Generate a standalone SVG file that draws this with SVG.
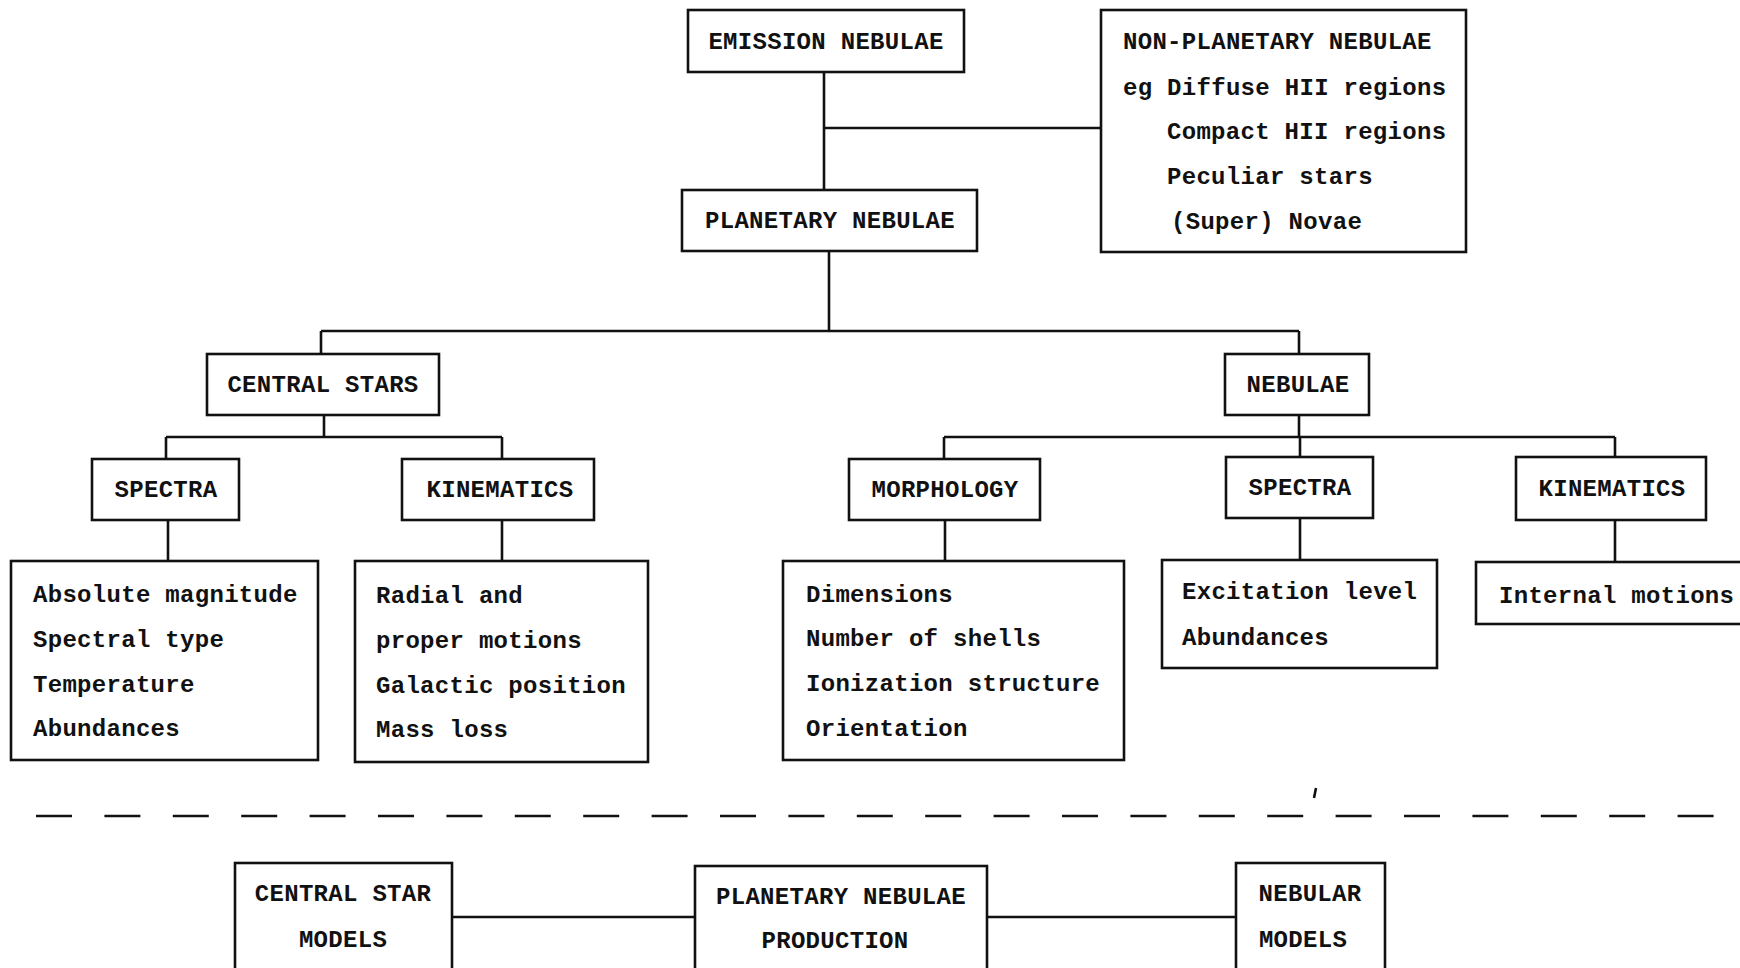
<svg xmlns="http://www.w3.org/2000/svg" width="1740" height="968" viewBox="0 0 1740 968">
<style>
.box{fill:#fff;stroke:#111;stroke-width:2.6}
.ln{fill:none;stroke:#111;stroke-width:2.6}
.t{font-family:"Liberation Mono","DejaVu Sans Mono",monospace;font-weight:bold;font-size:24px;letter-spacing:0.3px;fill:#111}
.c{text-anchor:middle}
</style>
<rect width="1740" height="968" fill="#fff"/>
<g id="connectors">
<path class="ln" d="M824 72V190M824 128H1101"/>
<path class="ln" d="M829 251V331M321 331H1299M321 331V354M1299 331V354"/>
<path class="ln" d="M324 415V437M166 437H502M166 437V459M502 437V459"/>
<path class="ln" d="M168 520V561M502 520V561"/>
<path class="ln" d="M1299 415V437M944 437H1615M944 437V459M1300 437V457M1615 437V457"/>
<path class="ln" d="M945 520V561M1300 518V560M1615 520V562"/>
<path class="ln" d="M452 917H695M987 917H1236"/>
<path class="ln" d="M36 816H1714" stroke-dasharray="36 32.4"/>
<path class="ln" d="M1316 788L1314 798" stroke-width="2"/>
</g>
<g id="emission"><rect class="box" x="688" y="10" width="276" height="62"/><text class="t c" x="826" y="49">EMISSION NEBULAE</text></g>
<g id="nonplanetary"><rect class="box" x="1101" y="10" width="365" height="242"/>
<text class="t" x="1123" y="49">NON-PLANETARY NEBULAE</text>
<text class="t" x="1123" y="95">eg Diffuse HII regions</text>
<text class="t" x="1167" y="139">Compact HII regions</text>
<text class="t" x="1167" y="184">Peculiar stars</text>
<text class="t" x="1171" y="229">(Super) Novae</text></g>
<g id="planetary"><rect class="box" x="682" y="190" width="295" height="61"/><text class="t c" x="830" y="228">PLANETARY NEBULAE</text></g>
<g id="centralstars"><rect class="box" x="207" y="354" width="232" height="61"/><text class="t c" x="323" y="392">CENTRAL STARS</text></g>
<g id="nebulae"><rect class="box" x="1225" y="354" width="144" height="61"/><text class="t c" x="1298" y="392">NEBULAE</text></g>
<g id="cs-spectra"><rect class="box" x="92" y="459" width="147" height="61"/><text class="t c" x="166" y="497">SPECTRA</text></g>
<g id="cs-kinematics"><rect class="box" x="402" y="459" width="192" height="61"/><text class="t c" x="500" y="497">KINEMATICS</text></g>
<g id="morphology"><rect class="box" x="849" y="459" width="191" height="61"/><text class="t c" x="945" y="497">MORPHOLOGY</text></g>
<g id="n-spectra"><rect class="box" x="1226" y="457" width="147" height="61"/><text class="t c" x="1300" y="495">SPECTRA</text></g>
<g id="n-kinematics"><rect class="box" x="1516" y="457" width="190" height="63"/><text class="t c" x="1612" y="496">KINEMATICS</text></g>
<g id="cs-spectra-items"><rect class="box" x="11" y="561" width="307" height="199"/>
<text class="t" x="33" y="602">Absolute magnitude</text>
<text class="t" x="33" y="647">Spectral type</text>
<text class="t" x="33" y="692">Temperature</text>
<text class="t" x="33" y="736">Abundances</text></g>
<g id="cs-kinematics-items"><rect class="box" x="355" y="561" width="293" height="201"/>
<text class="t" x="376" y="603">Radial and</text>
<text class="t" x="376" y="648">proper motions</text>
<text class="t" x="376" y="693">Galactic position</text>
<text class="t" x="376" y="737">Mass loss</text></g>
<g id="morphology-items"><rect class="box" x="783" y="561" width="341" height="199"/>
<text class="t" x="806" y="602">Dimensions</text>
<text class="t" x="806" y="646">Number of shells</text>
<text class="t" x="806" y="691">Ionization structure</text>
<text class="t" x="806" y="736">Orientation</text></g>
<g id="n-spectra-items"><rect class="box" x="1162" y="560" width="275" height="108"/>
<text class="t" x="1182" y="599">Excitation level</text>
<text class="t" x="1182" y="645">Abundances</text></g>
<g id="n-kinematics-items"><rect class="box" x="1476" y="562" width="270" height="62"/>
<text class="t" x="1499" y="603">Internal motions</text></g>
<g id="cs-models"><rect class="box" x="235" y="863" width="217" height="120"/>
<text class="t c" x="343" y="901">CENTRAL STAR</text>
<text class="t c" x="343" y="947">MODELS</text></g>
<g id="pn-production"><rect class="box" x="695" y="866" width="292" height="120"/>
<text class="t c" x="841" y="904">PLANETARY NEBULAE</text>
<text class="t c" x="835" y="948">PRODUCTION</text></g>
<g id="nebular-models"><rect class="box" x="1236" y="863" width="149" height="120"/>
<text class="t c" x="1310" y="901">NEBULAR</text>
<text class="t c" x="1303" y="947">MODELS</text></g>
</svg>
